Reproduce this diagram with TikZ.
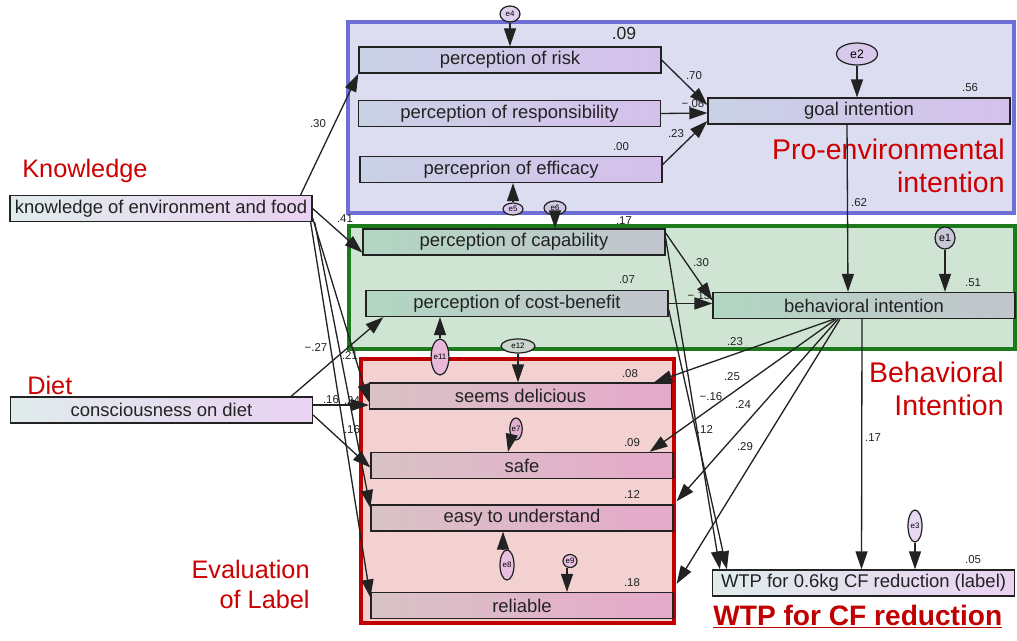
\documentclass[tikz,border=0pt]{standalone}
\usepackage{fontspec}
\setmainfont{Liberation Sans}
\usetikzlibrary{shapes.geometric,arrows.meta}
\definecolor{bluefr}{HTML}{6E6ED6}
\definecolor{bluefill}{HTML}{DDDDF1}
\definecolor{greenfr}{HTML}{1C7A1C}
\definecolor{greenfill}{HTML}{D0E4D4}
\definecolor{redfr}{HTML}{C00000}
\definecolor{redfill}{HTML}{F3D1D1}
\definecolor{redtxt}{HTML}{CC0000}
\definecolor{bl}{HTML}{C9D1E5}
\definecolor{br}{HTML}{D5C0EC}
\definecolor{gl}{HTML}{B2D6C2}
\definecolor{gr}{HTML}{C2C5CD}
\definecolor{rl}{HTML}{D9C3C6}
\definecolor{rr}{HTML}{E5A9CA}
\definecolor{nl}{HTML}{E0ECEC}
\definecolor{nr}{HTML}{EAD2F2}
\definecolor{ink}{HTML}{222222}
\definecolor{ea}{HTML}{E0D0F0}
\definecolor{eb}{HTML}{D8C8EC}
\definecolor{ec}{HTML}{D0C8E0}
\definecolor{ed}{HTML}{C8C8D8}
\definecolor{ee}{HTML}{E8B8D8}
\definecolor{ef}{HTML}{C8D4CC}
\definecolor{eg}{HTML}{E0B0D0}
\definecolor{eh}{HTML}{E8C0E0}
\definecolor{ei}{HTML}{E8D8F4}
\tikzset{
  box/.style={draw=ink, line width=0.75pt, minimum width=6.04cm, minimum height=0.52cm, inner sep=0pt, text=ink, font=\fontsize{10.5}{12}\selectfont},
  bbox/.style={box, left color=bl, right color=br},
  gbox/.style={box, left color=gl, right color=gr},
  rbox/.style={box, left color=rl, right color=rr},
  nbox/.style={box, left color=nl, right color=nr},
  coef/.style={font=\fontsize{6.5}{7}\selectfont, text=ink, inner sep=0pt},
  err/.style={ellipse, draw=ink, line width=0.7pt, inner sep=0pt, font=\fontsize{4.5}{5}\selectfont},
  link/.style={draw=ink, line width=0.75pt, -{Triangle[length=3.6mm,width=2.4mm]}},
  grp/.style={text=redtxt, font=\fontsize{16.2}{19}\selectfont, inner sep=0pt},
  grps/.style={grp, font=\fontsize{14.4}{17}\selectfont},
}
\begin{document}
\begin{tikzpicture}[x=0.02cm,y=-0.02cm]
\useasboundingbox (0,0) rectangle (1017,641);
% group frames
\draw[draw=bluefr, fill=bluefill, line width=1.8pt] (348,22) rectangle (1014,213);
\draw[draw=greenfr, fill=greenfill, line width=1.8pt] (349,226) rectangle (1015,349);
\draw[draw=redfr, fill=redfill, line width=2.2pt] (361,359) rectangle (674,623);
% group titles
\node[grps, anchor=base west] (tknow) at (22,178) {Knowledge};
\node[grps, anchor=base west] (tdiet) at (27,395) {Diet};
\node[grp, anchor=base east] (tpro1) at (1005,160) {Pro-environmental};
\node[grp, anchor=base east] (tpro2) at (1005,193) {intention};
\node[grp, anchor=base east] (tbeh1) at (1004,383) {Behavioral};
\node[grp, anchor=base east] (tbeh2) at (1004,416) {Intention};
\node[grps, anchor=base east] (teval1) at (310,578) {Evaluation};
\node[grps, anchor=base east] (teval2) at (310,608) {of Label};
\node[grp, text=redfr, font=\bfseries\fontsize{16}{19}\selectfont, anchor=base west] (twtp) at (713,625) {\underline{WTP for CF reduction}};
% coefficients
\node[coef, font=\fontsize{10}{11}\selectfont] (c1) at (624,33) {.09};
\node[coef] (c2) at (694,76) {.70};
\node[coef] (c3) at (693,104) {−.08};
\node[coef] (c4) at (676,134) {.23};
\node[coef] (c5) at (621,147) {.00};
\node[coef] (c6) at (970,88) {.56};
\node[coef] (c7) at (318,124) {.30};
\node[coef] (c8) at (345,219) {.41};
\node[coef] (c9) at (624,221) {.17};
\node[coef] (c10) at (859,203) {.62};
\node[coef] (c11) at (701,263) {.30};
\node[coef] (c12) at (627,280) {.07};
\node[coef] (c13) at (699,296) {−.15};
\node[coef] (c14) at (973,283) {.51};
\node[coef] (c15) at (735,342) {.23};
\node[coef] (c16) at (316,348) {−.27};
\node[coef] (c17) at (350,356) {.21};
\node[coef] (c18) at (630,374) {.08};
\node[coef] (c19) at (732,377) {.25};
\node[coef] (c20) at (711,397) {−.16};
\node[coef] (c21) at (743,405) {.24};
\node[coef] (c22) at (331,400) {.16};
\node[coef] (c23) at (352,401) {.24};
\node[coef] (c24) at (352,430) {.16};
\node[coef] (c25) at (632,443) {.09};
\node[coef] (c26) at (705,430) {.12};
\node[coef] (c27) at (873,438) {.17};
\node[coef] (c28) at (745,447) {.29};
\node[coef] (c29) at (632,495) {.12};
\node[coef] (c30) at (632,583) {.18};
\node[coef] (c31) at (973,560) {.05};
% observed variables
\node[bbox] (risk) at (510,60) {perception of risk};
\node[bbox] (resp) at (509.5,113.5) {perception of responsibility};
\node[bbox] (eff) at (511,169.5) {perceprion of efficacy};
\node[bbox] (goal) at (859,111) {goal intention};
\node[nbox] (know) at (161,208.5) {knowledge of environment and food};
\node[gbox] (cap) at (514,242) {perception of capability};
\node[gbox] (cost) at (517,303.5) {perception of cost-benefit};
\node[gbox] (bi) at (864,305.5) {behavioral intention};
\node[nbox] (diet) at (161.5,410) {consciousness on diet};
\node[rbox] (deli) at (520.5,396) {seems delicious};
\node[rbox] (safe) at (522,465.5) {safe};
\node[rbox] (easy) at (522,518) {easy to understand};
\node[rbox] (rel) at (522,605.5) {reliable};
\node[nbox] (wtp) at (863.5,583) {WTP for 0.6kg CF reduction (label)};
% error terms
\node[err, fill=ea, minimum width=0.4cm, minimum height=0.32cm] (e4) at (510,14) {e4};
\node[err, fill=eb, minimum width=0.82cm, minimum height=0.44cm, font=\fontsize{7}{8}\selectfont] (e2) at (857,54) {e2};
\node[err, fill=eb, minimum width=0.4cm, minimum height=0.24cm] (e5) at (513,209) {e5};
\node[err, fill=ec, minimum width=0.44cm, minimum height=0.28cm] (e6) at (555,208) {e6};
\node[err, fill=ed, minimum width=0.4cm, minimum height=0.44cm, font=\fontsize{6}{7}\selectfont] (e1) at (945,238) {e1};
\node[err, fill=ee, minimum width=0.28cm, minimum height=0.72cm] (e11) at (440,357) {e11};
\node[err, fill=ef, minimum width=0.68cm, minimum height=0.28cm] (e12) at (518,346) {e12};
\node[err, fill=eg, minimum width=0.24cm, minimum height=0.44cm] (e7) at (516,429) {e7};
\node[err, fill=eh, minimum width=0.28cm, minimum height=0.6cm] (e8) at (507,565) {e8};
\node[err, fill=eh, minimum width=0.28cm, minimum height=0.26cm] (e9) at (570,561) {e9};
\node[err, fill=ei, minimum width=0.28cm, minimum height=0.64cm] (e3) at (915,526) {e3};
% paths
\draw[link] ([shift={(-12,0)}]know.north east) -- (risk.south west);
\draw[link] (know.east) -- ([shift={(0,-3)}]cap.south west);
\draw[link] ([shift={(0,-4)}]know.south east) -- ([shift={(0,6)}]deli.west);
\draw[link] ([shift={(2,0)}]know.south east) -- ([shift={(0,-10)}]easy.west);
\draw[link] ([shift={(-2,0)}]know.south east) -- ([shift={(0,-8)}]rel.west);
\draw[link] ([shift={(-22,0)}]diet.north east) -- ([shift={(18,0)}]cost.south west);
\draw[link] ([shift={(0,-5)}]diet.east) -- ([shift={(0,9)}]deli.west);
\draw[link] ([shift={(0,5)}]diet.east) -- ([shift={(0,2)}]safe.west);
\draw[link] (risk.east) -- ([shift={(0,-6)}]goal.west);
\draw[link] (resp.east) -- ([shift={(0,2)}]goal.west);
\draw[link] ([shift={(0,-5)}]eff.east) -- ([shift={(0,10)}]goal.west);
\draw[link] ([shift={(-12,0)}]goal.south) -- ([shift={(-16,0)}]bi.north);
\draw[link] ([shift={(0,-9)}]cap.east) -- ([shift={(0,-5)}]bi.west);
\draw[link] (cost.east) -- ([shift={(0,-2)}]bi.west);
\draw[link] ([shift={(0,-4)}]cap.east) -- ([shift={(8,0)}]wtp.north west);
\draw[link] ([shift={(0,6)}]cost.east) -- ([shift={(15,0)}]wtp.north west);
\draw[link] ([shift={(-30,0)}]bi.south) -- ([shift={(-18,0)}]deli.north east);
\draw[link] ([shift={(-28,0)}]bi.south) -- ([shift={(-24,0)}]safe.north east);
\draw[link] ([shift={(-26,0)}]bi.south) -- ([shift={(3,-3)}]easy.north east);
\draw[link] ([shift={(-24,0)}]bi.south) -- ([shift={(3,-8)}]rel.north east);
\draw[link] ([shift={(-2,0)}]bi.south) -- ([shift={(-2,0)}]wtp.north);
% error arrows
\draw[link] (e4.south) -- (e4.south |- risk.north);
\draw[link] (e2.south) -- (e2.south |- goal.north);
\draw[link] (e5.north) -- (e5.north |- eff.south);
\draw[link] (e6.south) -- (e6.south |- cap.north);
\draw[link] (e1.south) -- (e1.south |- bi.north);
\draw[link] (e11.north) -- (e11.north |- cost.south);
\draw[link] (e12.south) -- (e12.south |- deli.north);
\draw[link] (e7.south west) -- ([shift={(-14,0)}]safe.north);
\draw[link] ([shift={(-4,0)}]e8.north) -- ([shift={(-4,0)}]e8.north |- easy.south);
\draw[link] ([shift={(-3,0)}]e9.south) -- ([shift={(-3,0)}]e9.south |- rel.north);
\draw[link] (e3.south) -- (e3.south |- wtp.north);
\end{tikzpicture}
\end{document}
